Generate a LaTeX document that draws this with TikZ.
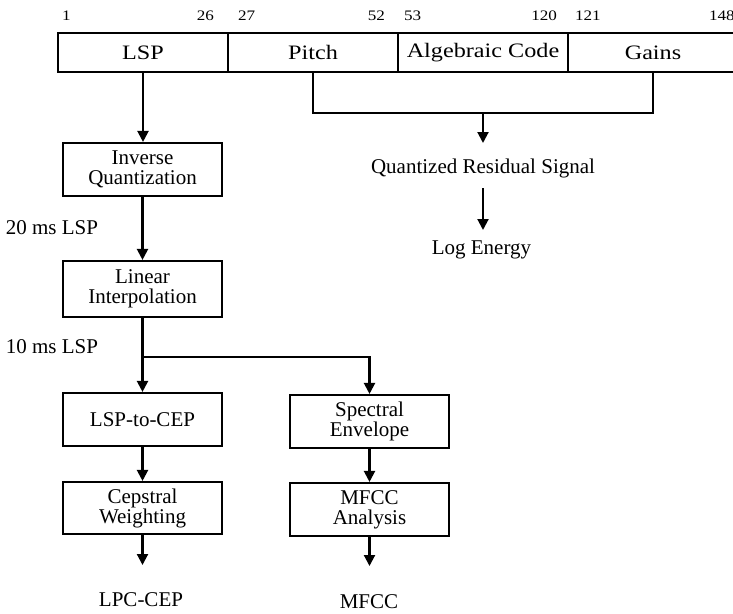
\documentclass[tikz,border=0pt]{standalone}
\usepackage{graphicx}
\usepackage{fontspec}
\setmainfont{Liberation Serif}
\usetikzlibrary{arrows.meta}
% slightly widened lettering used in the frame layout row
\newcommand\hwide[1]{\scalebox{1.18}[1]{#1}}
\begin{document}
\begin{tikzpicture}[x=1pt,y=-1pt,
  line width=2.1pt,
  arr/.style={-{Triangle[width=11pt,length=11pt]}},
  box/.style={draw, minimum width=159pt, minimum height=53pt, align=center,
    inner sep=0pt, font=\fontsize{21}{20}\selectfont},
  field/.style={draw, minimum width=170pt, minimum height=39pt, inner sep=0pt,
    font=\fontsize{20.5}{22}\selectfont},
  lbl/.style={inner sep=0pt, font=\fontsize{21}{22}\selectfont},
  num/.style={inner sep=0pt, font=\fontsize{14.5}{16}\selectfont},
]
\useasboundingbox (0,0) rectangle (733,613);

% bit fields of the frame
\node[field] (lsp)   at (143,52.5) {\hwide{LSP}};
\node[field] (pitch) at (313,52.5) {\hwide{Pitch}};
\node[field] (alg)   at (483,52.5) {\hwide{Algebraic Code}};
\node[field] (gains) at (653,52.5) {\hwide{Gains}};

% bit positions
\node[num, anchor=base west] (b1)   at (61,20)  {\hwide{1}};
\node[num, anchor=base east] (b26)  at (215,20) {\hwide{26}};
\node[num, anchor=base west] (b27)  at (237,20) {\hwide{27}};
\node[num, anchor=base east] (b52)  at (386,20) {\hwide{52}};
\node[num, anchor=base west] (b53)  at (403,20) {\hwide{53}};
\node[num, anchor=base east] (b120) at (558,20) {\hwide{120}};
\node[num, anchor=base west] (b121) at (574,20) {\hwide{121}};
\node[num, anchor=base west] (b148) at (708,20) {\hwide{148}};

% residual / energy branch
\coordinate (jq) at (483,113);
\draw (pitch.south) -- (pitch.south |- jq) -| (gains.south);
\node[lbl] (qrs) at (483,168) {Quantized Residual Signal};
\coordinate (qin) at (483,143);
\draw[arr] (jq) -- (qin);
\coordinate (qout) at (483,188);
\coordinate (lein) at (483,230);
\draw[arr] (qout) -- (lein);
\node[lbl] (le) at (481.5,250) {Log Energy};

% LSP processing chain
\node[box] (iq) at (142.5,169.5) {Inverse\\Quantization};
\draw[arr] (lsp.south) -- (lsp.south |- iq.north);
\node[lbl] (l20) at (52,228) {20 ms LSP};
\node[box, minimum height=56pt] (li) at (142.5,289) {Linear\\Interpolation};
\draw[arr] (iq.south) -- (li.north);
\node[lbl] (l10) at (52,347) {10 ms LSP};

\coordinate (split) at (142.5,357);
\draw (li.south) -- (split);

\node[box] (lc) at (142.5,419.5) {LSP-to-CEP};
\node[box, minimum height=52pt] (cw) at (142.5,508) {Cepstral\\Weighting};
\node[box] (se) at (369.5,421.5) {Spectral\\Envelope};
\node[box] (ma) at (369.5,509.5) {MFCC\\Analysis};

\draw[arr] (split) -- (lc.north);
\draw[arr] (split) -| (se.north);
\draw[arr] (lc.south) -- (cw.north);
\draw[arr] (se.south) -- (ma.north);

% outputs
\coordinate (cend) at (142.5,565);
\coordinate (mend) at (369.5,566);
\draw[arr] (cw.south) -- (cend);
\draw[arr] (ma.south) -- (mend);
\node[lbl] (lpc)  at (141,600) {LPC-CEP};
\node[lbl] (mfcc) at (369,602) {MFCC};
\end{tikzpicture}
\end{document}
